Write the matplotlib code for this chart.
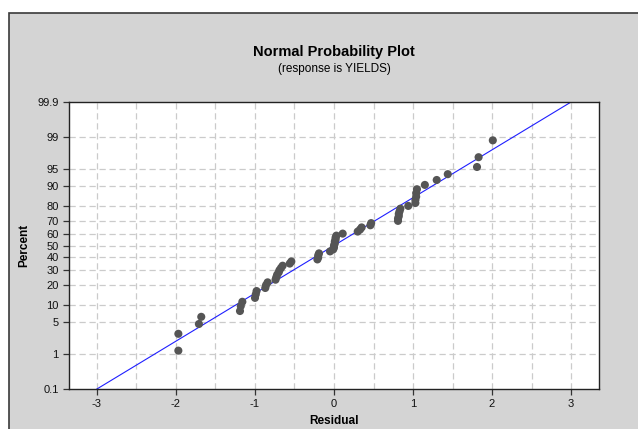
import numpy as np
import matplotlib
matplotlib.use("Agg")
import matplotlib.pyplot as plt
from matplotlib.patches import Rectangle
from statistics import NormalDist

# ---------------------------------------------------
# Data (residuals, sorted)
# ---------------------------------------------------

residuals = [
    -1.97, -1.97, -1.71, -1.68, -1.19, -1.18, -1.16, -1.00, -0.99, -0.98,
    -0.87, -0.86, -0.84, -0.74, -0.73, -0.72, -0.70, -0.69, -0.67, -0.65,
    -0.56, -0.54, -0.21, -0.20, -0.20, -0.19, -0.05, -0.01, 0.00, 0.00,
    0.01, 0.01, 0.02, 0.02, 0.03, 0.11, 0.30, 0.33, 0.35, 0.46,
    0.47, 0.81, 0.81, 0.82, 0.82, 0.83, 0.84, 0.94, 1.03, 1.03,
    1.04, 1.04, 1.05, 1.15, 1.30, 1.44, 1.81, 1.83, 2.01,
]

percent_ticks = [0.1, 1, 5, 10, 20, 30, 40, 50, 60, 70, 80, 90, 95, 99, 99.9]
percent_labels = ["0.1", "1", "5", "10", "20", "30", "40", "50", "60",
                  "70", "80", "90", "95", "99", "99.9"]
x_ticks = [-3, -2, -1, 0, 1, 2, 3]

# fitted normal line
line_mean = 0.0
line_sd = 0.971

# ---------------------------------------------------
# Probability scale
# ---------------------------------------------------

nd = NormalDist()


def to_z(pct):
    return nd.inv_cdf(pct / 100.0)


n = len(residuals)
ranks = np.arange(1, n + 1)
# median rank plotting positions (Benard)
plot_pct = (ranks - 0.3) / (n + 0.4) * 100
plot_z = [to_z(p) for p in plot_pct]

plt.rcParams["font.family"] = ["Liberation Sans", "DejaVu Sans"]

fig = plt.figure(figsize=(6.38, 4.29), dpi=100)
fig.patch.set_facecolor("white")

# gray background panel
fig.patches.append(Rectangle(
    (9 / 638, -0.01), 1.0, 1 - 13 / 429 + 0.01,
    transform=fig.transFigure, facecolor="#d4d4d4",
    edgecolor="#3a3a3a", linewidth=1.2, zorder=-10
))

ax = fig.add_axes([69 / 638, 1 - 389 / 429, 530 / 638, 287 / 429])
ax.set_facecolor("white")
ax.set_zorder(5)

z_lo = to_z(0.1)
z_hi = to_z(99.9)

ax.set_xlim(-3.354, 3.354)
ax.set_ylim(z_lo, z_hi)

# grid
for x in np.arange(-3, 3.01, 0.5):
    ax.axvline(x, color="#cbcbcb", linestyle=(0, (5, 3)), linewidth=0.9, zorder=1)
for p in percent_ticks[1:-1]:
    ax.axhline(to_z(p), color="#cbcbcb", linestyle=(0, (5, 3)), linewidth=0.9, zorder=1)

# fitted line
lx = np.array([-3.4, 3.4])
ax.plot(lx, (lx - line_mean) / line_sd, color="#1f1fff", linewidth=0.8, zorder=2)

# points
ax.scatter(residuals, plot_z, s=34, color="#555555", edgecolors="none", zorder=3)

ax.set_xticks(x_ticks)
ax.set_xticklabels([str(t) for t in x_ticks])
ax.set_yticks([to_z(p) for p in percent_ticks])
ax.set_yticklabels(percent_labels)

ax.tick_params(axis="both", direction="out", length=4, width=0.9,
               color="#333333", labelsize=8, labelcolor="#111111")

for spine in ax.spines.values():
    spine.set_color("#222222")
    spine.set_linewidth(1.0)

ax.set_xlabel("Residual", fontsize=8.5, fontweight="bold", labelpad=4)
ax.set_ylabel("Percent", fontsize=8.5, fontweight="bold", labelpad=5)

fig.text(334 / 638, 1 - 52 / 429, "Normal Probability Plot",
         ha="center", va="center", fontsize=10.5, fontweight="bold")
fig.text(334 / 638, 1 - 69 / 429, "(response is YIELDS)",
         ha="center", va="center", fontsize=8.5)

plt.savefig("out.png", dpi=100, facecolor=fig.get_facecolor())
plt.close()
